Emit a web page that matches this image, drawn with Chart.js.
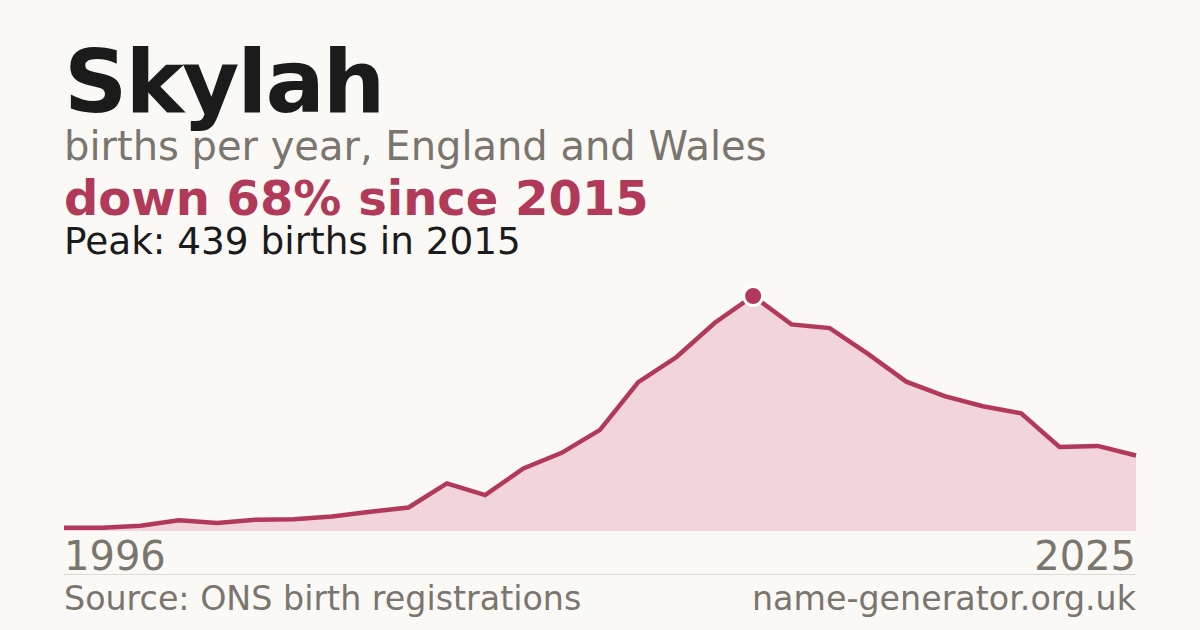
<!DOCTYPE html>
<html>
<head>
<meta charset="utf-8">
<script src="https://cdn.jsdelivr.net/npm/chart.js@4/dist/chart.umd.min.js"></script>
<style>
  html, body { margin: 0; padding: 0; }
  body { width: 1200px; height: 630px; background: #faf9f5; position: relative; overflow: hidden; font-family: "DejaVu Sans", sans-serif; }
  .t { position: absolute; left: 64px; line-height: 1; white-space: nowrap; }
  #title { top: 38px; font-size: 88px; font-weight: bold; color: #1b1b1b; letter-spacing: -2px; }
  #sub { top: 126px; font-size: 40px; color: #7a756d; }
  #change { top: 174px; font-size: 48px; font-weight: bold; color: #b13a58; }
  #peak { top: 223px; font-size: 37.4px; color: #1b1b1b; }
  #chartBox { position: absolute; left: 54px; top: 280px; width: 1092px; height: 251px; }
  .axis { position: absolute; top: 536px; font-size: 40px; line-height: 1; color: #7a756d; }
  #axL { left: 64px; }
  #axR { right: 64px; }
  #rule { position: absolute; left: 64px; width: 1072px; top: 574px; height: 1px; background: #dedbd4; }
  .foot { position: absolute; top: 582px; font-size: 33.3px; line-height: 1; color: #7a756d; white-space: nowrap; }
  #src { left: 64px; }
  #site { right: 64px; }
</style>
</head>
<body>
<div id="title" class="t"></div>
<div id="sub" class="t"></div>
<div id="change" class="t"></div>
<div id="peak" class="t"></div>
<div id="chartBox"><canvas id="c"></canvas></div>
<div id="axL" class="axis"></div>
<div id="axR" class="axis"></div>
<div id="rule"></div>
<div id="src" class="foot"></div>
<div id="site" class="foot"></div>
<script>
const nameText = "Skylah";
const subtitleText = "births per year, England and Wales";
const changeText = "down 68% since 2015";
const peakText = "Peak: 439 births in 2015";
const sourceText = "Source: ONS birth registrations";
const siteText = "name-generator.org.uk";

const years = [1997, 1998, 1999, 2000, 2001, 2002, 2003, 2004, 2005, 2006,
               2007, 2008, 2009, 2010, 2011, 2012, 2013, 2014, 2015, 2016,
               2017, 2018, 2019, 2020, 2021, 2022, 2023, 2024, 2025];
const births = [6, 6, 10, 20, 15, 21, 22, 27, 36, 44,
                89, 67, 117, 146, 189, 278, 325, 389, 439, 386,
                379, 331, 279, 252, 233, 220, 157, 159, 141];
const axisLabels = ["1996", "2025"];

document.getElementById('title').textContent = nameText;
document.getElementById('sub').textContent = subtitleText;
document.getElementById('change').textContent = changeText;
document.getElementById('peak').textContent = peakText;
document.getElementById('axL').textContent = axisLabels[0];
document.getElementById('axR').textContent = axisLabels[1];
document.getElementById('src').textContent = sourceText;
document.getElementById('site').textContent = siteText;

const peakIdx = births.indexOf(Math.max(...births));

new Chart(document.getElementById('c'), {
  type: 'line',
  data: {
    labels: years.map(String),
    datasets: [{
      data: births,
      borderColor: '#b3395a',
      borderWidth: 4.5,
      backgroundColor: '#f1d5da',
      fill: 'origin',
      tension: 0,
      clip: false,
      pointRadius: ctx => ctx.dataIndex === peakIdx ? 9.5 : 0,
      pointHoverRadius: 0,
      pointBackgroundColor: '#b3395a',
      pointBorderColor: '#ffffff',
      pointBorderWidth: 3
    }]
  },
  options: {
    responsive: true,
    maintainAspectRatio: false,
    animation: false,
    layout: { padding: { left: 10, right: 10, top: 16, bottom: 0 } },
    plugins: { legend: { display: false }, tooltip: { enabled: false } },
    scales: {
      x: { display: false, offset: false },
      y: { display: false, min: 0, max: 439 }
    }
  }
});
</script>
</body>
</html>
